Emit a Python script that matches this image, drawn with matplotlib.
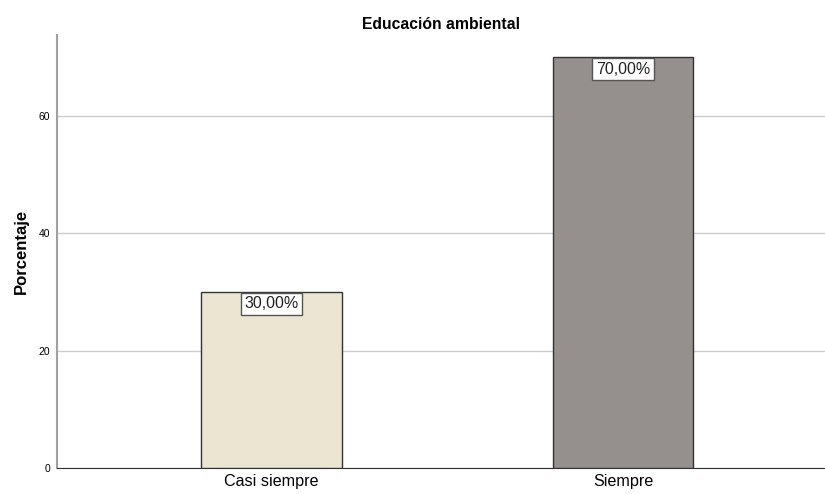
import matplotlib
matplotlib.use("Agg")
import matplotlib.pyplot as plt
import numpy as np

categories = ["Casi siempre", "Siempre"]
percentages = [30.0, 70.0]
bar_colors = ["#ebe5d1", "#958f8e"]

plt.rcParams["font.family"] = ["Liberation Sans", "DejaVu Sans"]

fig = plt.figure(figsize=(8.25, 4.94), dpi=100)
ax = fig.add_axes([0.0691, 0.0526, 0.9309, 0.8765])

x = np.arange(len(categories))
ax.bar(x, percentages, width=0.40, color=bar_colors, edgecolor="#333333",
       linewidth=1.0, zorder=3)

for xi, v in zip(x, percentages):
    ax.text(xi, v - 0.75, f"{v:.2f}".replace(".", ",") + "%", ha="center",
            va="top", fontsize=11.5, color="#222222", zorder=4,
            bbox=dict(boxstyle="square,pad=0.22", facecolor="white",
                      edgecolor="#555555", linewidth=1.0))

ax.set_xlim(-0.61, 1.575)
ax.set_ylim(0, 73.8)
ax.set_yticks([0, 20, 40, 60])
ax.set_xticks(x)
ax.set_xticklabels(categories, fontsize=11.6)
ax.tick_params(axis="y", labelsize=7.5, length=0, pad=5)
ax.tick_params(axis="x", length=0, pad=4)
ax.yaxis.grid(True, color="#cccccc", linewidth=1.0, zorder=0)
ax.set_axisbelow(True)

for s in ("top", "right"):
    ax.spines[s].set_visible(False)
ax.spines["left"].set_color("#a0a0a0")
ax.spines["left"].set_linewidth(1.5)
ax.spines["bottom"].set_color("#333333")

ax.set_ylabel("Porcentaje", fontsize=12, fontweight="bold", labelpad=7)
ax.set_title("Educación ambiental", fontsize=11.3, fontweight="bold", pad=4)

fig.savefig("out.png", dpi=100)
